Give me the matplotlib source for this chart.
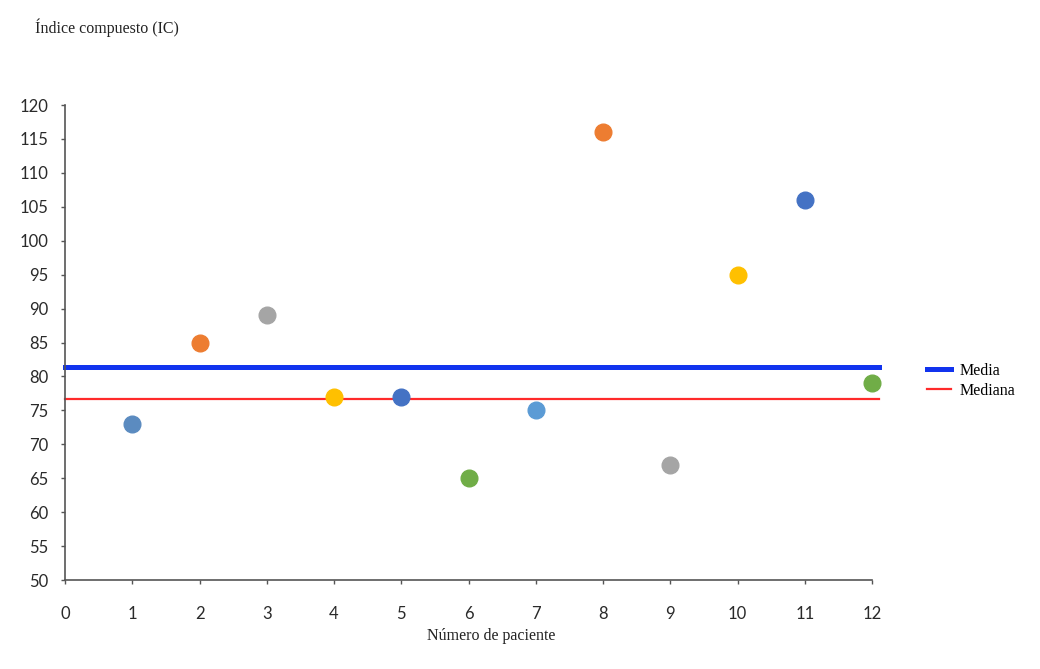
import matplotlib.pyplot as plt

# Índice compuesto por paciente
pacientes = [1, 2, 3, 4, 5, 6, 7, 8, 9, 10, 11, 12]
ic = [73, 85, 89, 77, 77, 65, 75, 116, 67, 95, 106, 79]
colores = ['#5B8BC0', '#ED7D31', '#A5A5A5', '#FFC000', '#4472C4', '#70AD47',
           '#5B9BD5', '#ED7D31', '#A5A5A5', '#FFC000', '#4472C4', '#70AD47']
media = 81.4
mediana = 76.7

fig = plt.figure(figsize=(10.4, 6.69), dpi=100)
ax = fig.add_axes([0.0625, 0.133, 0.776, 0.710])

for x, y, c in zip(pacientes, ic, colores):
    ax.plot(x, y, 'o', color=c, markersize=12, clip_on=False, zorder=3)

ax.plot([0, 12.1], [media, media], color='#1133EE', lw=3.6, clip_on=False, label='Media', zorder=2)
ax.plot([0, 12.1], [mediana, mediana], color='#FF2A2A', lw=1.6, clip_on=False, label='Mediana', zorder=2)

ax.set_xlim(0, 12)
ax.set_ylim(50, 120)
ax.set_xticks(range(0, 13))
ax.set_yticks(range(50, 121, 5))
for s in ['top', 'right']:
    ax.spines[s].set_visible(False)
for s in ['left', 'bottom']:
    ax.spines[s].set_color('#555555')
    ax.spines[s].set_linewidth(1.2)
ax.tick_params(axis='both', colors='#555555', width=1,
               labelcolor='#2a2a2a', labelsize=12)
ax.tick_params(axis='y', direction='out', length=3, pad=9)
ax.tick_params(axis='x', direction='out', length=3, pad=16)
for lab in ax.get_xticklabels() + ax.get_yticklabels():
    lab.set_fontfamily('Lato')

fig.text(0.034, 0.958, 'Índice compuesto (IC)', fontsize=11.5,
         family='Liberation Serif', color='#222222', va='center')
fig.text(0.472, 0.049, 'Número de paciente', fontsize=11.5,
         family='Liberation Serif', color='#222222', ha='center', va='center')

leg = fig.legend(loc='center left', bbox_to_anchor=(0.878, 0.431), frameon=False,
                 handlelength=1.5, handletextpad=0.5, labelspacing=0.25,
                 prop={'family': 'Liberation Serif', 'size': 11.5})

fig.savefig('out.png', dpi=100)
